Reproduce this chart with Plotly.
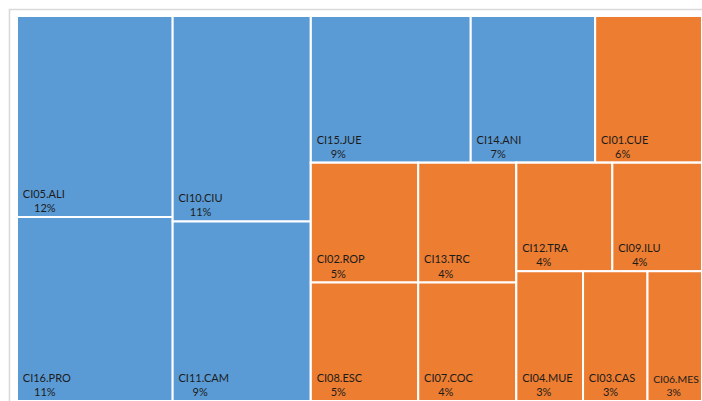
import plotly.graph_objects as go

# ---- data (share of total, %) ----
categories = ["CI05.ALI", "CI16.PRO", "CI10.CIU", "CI11.CAM", "CI15.JUE", "CI14.ANI",
              "CI01.CUE", "CI02.ROP", "CI08.ESC", "CI13.TRC", "CI07.COC", "CI12.TRA",
              "CI09.ILU", "CI04.MUE", "CI03.CAS", "CI06.MES"]
values = [11.85, 10.85, 10.75, 9.40, 8.89, 6.92,
          5.94, 4.87, 4.82, 4.45, 4.40, 3.94,
          3.68, 3.28, 3.17, 2.68]
series = ["A"] * 6 + ["B"] * 10          # blue series / orange series

# tile grouping used by the original treemap (slice/dice blocks)
tile_group = ["T1", "T1", "T2", "T2", "T31", "T31", "T31", "T321", "T321",
              "T322", "T322", "T3231", "T3231", "T3232", "T3232", "T3232"]
group_ids = ["T1", "T2", "T3", "T31", "T32", "T321", "T322", "T323", "T3231", "T3232"]
group_parents = ["", "", "", "T3", "T3", "T32", "T32", "T32", "T323", "T323"]

series_colors = {"A": "#5B9BD5", "B": "#ED7D31"}

total = sum(values)
NB = "\u00a0"


def leaf_text(name, v):
    pct = f"{round(v / total * 100):.0f}%"
    pad = 4 if len(pct) == 3 else 5
    return f"{NB}{name}<br>{NB * (pad + 1)}{pct}"


ids = group_ids + categories
labels = [""] * len(group_ids) + categories
parents = group_parents + tile_group
vals = [0] * len(group_ids) + values
texts = [""] * len(group_ids) + [leaf_text(c, v) for c, v in zip(categories, values)]
colors = ["#FFFFFF"] * len(group_ids) + [series_colors[s] for s in series]

fig = go.Figure(go.Treemap(
    ids=ids,
    labels=labels,
    parents=parents,
    values=vals,
    text=texts,
    texttemplate="%{text}",
    textposition="bottom left",
    textfont=dict(family="Lato", size=11, color="#1C1C1C"),
    sort=False,
    branchvalues="remainder",
    tiling=dict(packing="slice-dice", pad=0),
    marker=dict(colors=colors, line=dict(color="#FFFFFF", width=2),
                pad=dict(t=0, l=0, r=0, b=0)),
    pathbar=dict(visible=False),
    hoverinfo="label+value+percent root",
))

fig.update_layout(
    width=702, height=401,
    margin=dict(l=17, r=0, t=16, b=0),
    paper_bgcolor="#FFFFFF",
    shapes=[dict(type="rect", xref="paper", yref="paper",
                 x0=-0.011, x1=1.05, y0=-0.05, y1=1.017,
                 line=dict(color="#D9D9D9", width=1.5))],
)

fig.write_html(
    "out.html",
    config={"displayModeBar": False},
    post_script="document.body.style.margin='0';document.body.style.overflow='hidden';",
)
